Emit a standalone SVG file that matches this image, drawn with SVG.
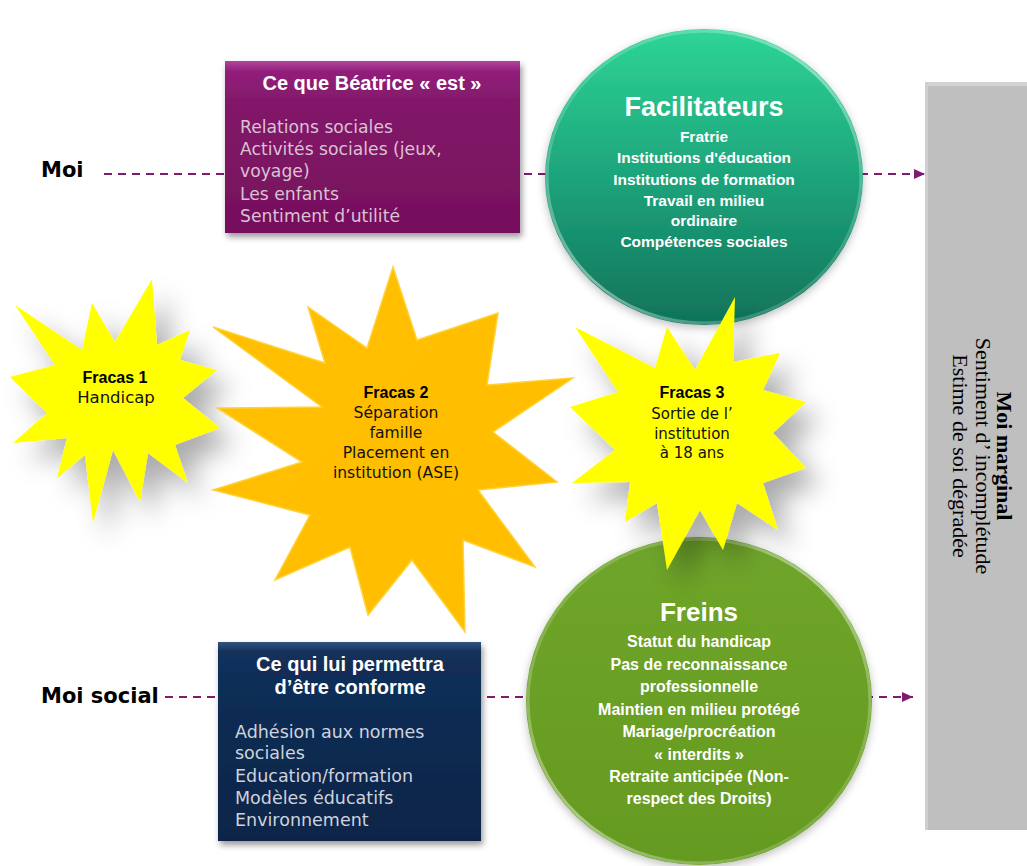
<svg xmlns="http://www.w3.org/2000/svg" width="1027" height="866" viewBox="0 0 1027 866">
<defs>
<style>
.b{font-family:"Liberation Sans",Arial,sans-serif;font-weight:bold}
.r{font-family:"DejaVu Sans","Liberation Sans",sans-serif}
.lbl{font-family:"DejaVu Sans","Liberation Sans",sans-serif;font-weight:bold;font-size:21px;fill:#000}
.w{fill:#ffffff}
.k{fill:#000000}
.c{text-anchor:middle}
.dash{stroke:#7F1A6F;stroke-width:2;stroke-dasharray:8 6;fill:none}
.ser{font-family:"Liberation Serif","Times New Roman",serif;font-size:22px;fill:#000;text-anchor:middle}
</style>
<linearGradient id="gPur" x1="0" y1="0" x2="0" y2="1">
<stop offset="0" stop-color="#B2449E"/>
<stop offset="0.06" stop-color="#921F7B"/>
<stop offset="0.25" stop-color="#821869"/>
<stop offset="1" stop-color="#760F5C"/>
</linearGradient>
<linearGradient id="gNav" x1="0" y1="0" x2="0" y2="1">
<stop offset="0" stop-color="#34547F"/>
<stop offset="0.05" stop-color="#12305A"/>
<stop offset="1" stop-color="#0B2447"/>
</linearGradient>
<linearGradient id="gTeal" x1="0" y1="0" x2="0" y2="1">
<stop offset="0" stop-color="#2ED596"/>
<stop offset="0.5" stop-color="#1EA47B"/>
<stop offset="1" stop-color="#10735A"/>
</linearGradient>
<linearGradient id="gGreen" x1="0" y1="0" x2="0" y2="1">
<stop offset="0" stop-color="#6FA52A"/>
<stop offset="1" stop-color="#659A20"/>
</linearGradient>
<linearGradient id="gRim" x1="0" y1="0" x2="1" y2="1">
<stop offset="0" stop-color="#ffffff" stop-opacity="0.05"/>
<stop offset="0.5" stop-color="#ffffff" stop-opacity="0.45"/>
<stop offset="1" stop-color="#ffffff" stop-opacity="0.05"/>
</linearGradient>
<linearGradient id="gOr" x1="0" y1="0" x2="1" y2="1">
<stop offset="0" stop-color="#FFC000"/>
<stop offset="1" stop-color="#FFBE00"/>
</linearGradient>
<filter id="shStar" x="-40%" y="-40%" width="190%" height="190%">
<feDropShadow dx="14" dy="16" stdDeviation="13" flood-color="#000" flood-opacity="0.33"/>
</filter>
<filter id="shBox" x="-10%" y="-10%" width="125%" height="130%">
<feDropShadow dx="2" dy="4" stdDeviation="3" flood-color="#000" flood-opacity="0.4"/>
</filter>
<filter id="shCirc" x="-10%" y="-10%" width="125%" height="125%">
<feDropShadow dx="0" dy="3" stdDeviation="4" flood-color="#000" flood-opacity="0.25"/>
</filter>
<marker id="arr" markerWidth="12" markerHeight="10" refX="11" refY="5" orient="auto" markerUnits="userSpaceOnUse">
<path d="M0,0 L11,5 L0,10 Z" fill="#7F1A6F"/>
</marker>
</defs>
<rect width="1027" height="866" fill="#ffffff"/>

<g id="connectors">
<line class="dash" x1="104" y1="174" x2="925" y2="174" marker-end="url(#arr)"/>
<line class="dash" x1="165" y1="697" x2="913" y2="697" marker-end="url(#arr)"/>
</g>

<g id="moi-label">
<text class="lbl" x="41" y="177">Moi</text>
</g>
<g id="moi-social-label">
<text class="lbl" x="41" y="703">Moi social</text>
</g>

<g id="moi-marginal">
<rect x="925" y="82" width="102" height="748" fill="#BFBFBF"/>
<rect x="925" y="82" width="102" height="4" fill="#D2D2D2"/>
<rect x="925" y="82" width="3" height="748" fill="#CFCFCF"/>
<text class="ser" font-weight="bold" transform="translate(997,456) rotate(90)">Moi marginal</text>
<text class="ser" transform="translate(976,456) rotate(90)">Sentiment d’  incomplétude</text>
<text class="ser" transform="translate(953,456) rotate(90)">Estime de soi dégradée</text>
</g>

<g id="ce-que-beatrice-est">
<rect x="225" y="61" width="295" height="172" fill="url(#gPur)" filter="url(#shBox)"/>
<text class="b w c" x="372" y="90" font-size="20">Ce que Béatrice « est »</text>
<g class="r" font-size="17.2" fill="#D8C2D3">
<text x="240" y="133">Relations sociales</text>
<text x="240" y="155">Activités sociales (jeux,</text>
<text x="240" y="177">voyage)</text>
<text x="240" y="200">Les enfants</text>
<text x="240" y="222">Sentiment d’utilité</text>
</g>
</g>

<g id="ce-qui-lui-permettra">
<rect x="218" y="642" width="263" height="199" fill="url(#gNav)" filter="url(#shBox)"/>
<text class="b w c" x="350" y="671" font-size="20">Ce qui lui permettra</text>
<text class="b w c" x="350" y="694" font-size="20">d’être conforme</text>
<g class="r" font-size="17.5" fill="#CED3DC">
<text x="235" y="738">Adhésion aux normes</text>
<text x="235" y="759">sociales</text>
<text x="235" y="782">Education/formation</text>
<text x="235" y="804">Modèles éducatifs</text>
<text x="235" y="826">Environnement</text>
</g>
</g>

<g id="facilitateurs">
<ellipse cx="704" cy="177" rx="159" ry="148" fill="url(#gTeal)" filter="url(#shCirc)"/>
<ellipse cx="704" cy="177" rx="157" ry="146" fill="none" stroke="url(#gRim)" stroke-width="3"/>
<text class="b w c" x="704" y="116" font-size="27">Facilitateurs</text>
<g class="b w c" font-size="15.5">
<text x="704" y="142">Fratrie</text>
<text x="704" y="163">Institutions d'éducation</text>
<text x="704" y="185">Institutions de formation</text>
<text x="704" y="206">Travail en milieu</text>
<text x="704" y="226">ordinaire</text>
<text x="704" y="247">Compétences sociales</text>
</g>
</g>

<g id="freins">
<ellipse cx="699" cy="701" rx="173" ry="164" fill="url(#gGreen)" filter="url(#shCirc)"/>
<ellipse cx="699" cy="701" rx="171" ry="162" fill="none" stroke="url(#gRim)" stroke-width="3"/>
<text class="b w c" x="699" y="621" font-size="26">Freins</text>
<g class="b w c" font-size="16">
<text x="699" y="647">Statut du handicap</text>
<text x="699" y="670">Pas de reconnaissance</text>
<text x="699" y="692">professionnelle</text>
<text x="699" y="715">Maintien en milieu protégé</text>
<text x="699" y="737">Mariage/procréation</text>
<text x="699" y="760">« interdits »</text>
<text x="699" y="782">Retraite anticipée (Non-</text>
<text x="699" y="804">respect des Droits)</text>
</g>
</g>

<g id="fracas-1">
<polygon points="152,279 115,342 92,303 82,350 15,305 55,365 10,377 47,413 13,443 67,438 57,478 85,455 93,523 113,450 140,502 148,453 188,483 175,445 220,428 183,398 217,370 180,360 190,330 157,345" fill="#FFFF00" filter="url(#shStar)"/>
<text class="b k c" x="115" y="383" font-size="16">Fracas 1</text>
<text class="r c" x="116" y="403" font-size="16.5" fill="#111">Handicap</text>
</g>

<g id="fracas-2">
<polygon points="393,267 367,348 308,307 325,363 213,327 322,407 217,408 302,462 213,490 310,515 275,580 350,547 368,615 412,560 465,632 463,540 535,567 478,490 557,482 493,432 573,378 487,385 498,313 417,340" fill="url(#gOr)" stroke="#FFD23A" stroke-width="1.5" stroke-linejoin="miter"/>
<text class="b k c" x="396" y="398" font-size="16">Fracas 2</text>
<g class="r c" font-size="15.6" fill="#111">
<text x="396" y="418">Séparation</text>
<text x="396" y="438">famille</text>
<text x="396" y="458">Placement en</text>
<text x="396" y="478">institution (ASE)</text>
</g>
</g>

<g id="fracas-3">
<polygon points="735,297 733,362 780,353 763,390 806,402 773,433 806,468 763,483 778,530 737,503 723,550 700,510 667,570 657,503 625,522 630,482 572,483 615,450 570,407 618,392 575,327 655,368 667,327 695,370" fill="#FFFF00" filter="url(#shStar)"/>
<text class="b k c" x="692" y="398" font-size="16">Fracas 3</text>
<g class="r c" font-size="15" fill="#111">
<text x="692" y="419">Sortie de l’</text>
<text x="692" y="439">institution</text>
<text x="692" y="458">à 18 ans</text>
</g>
</g>
</svg>
